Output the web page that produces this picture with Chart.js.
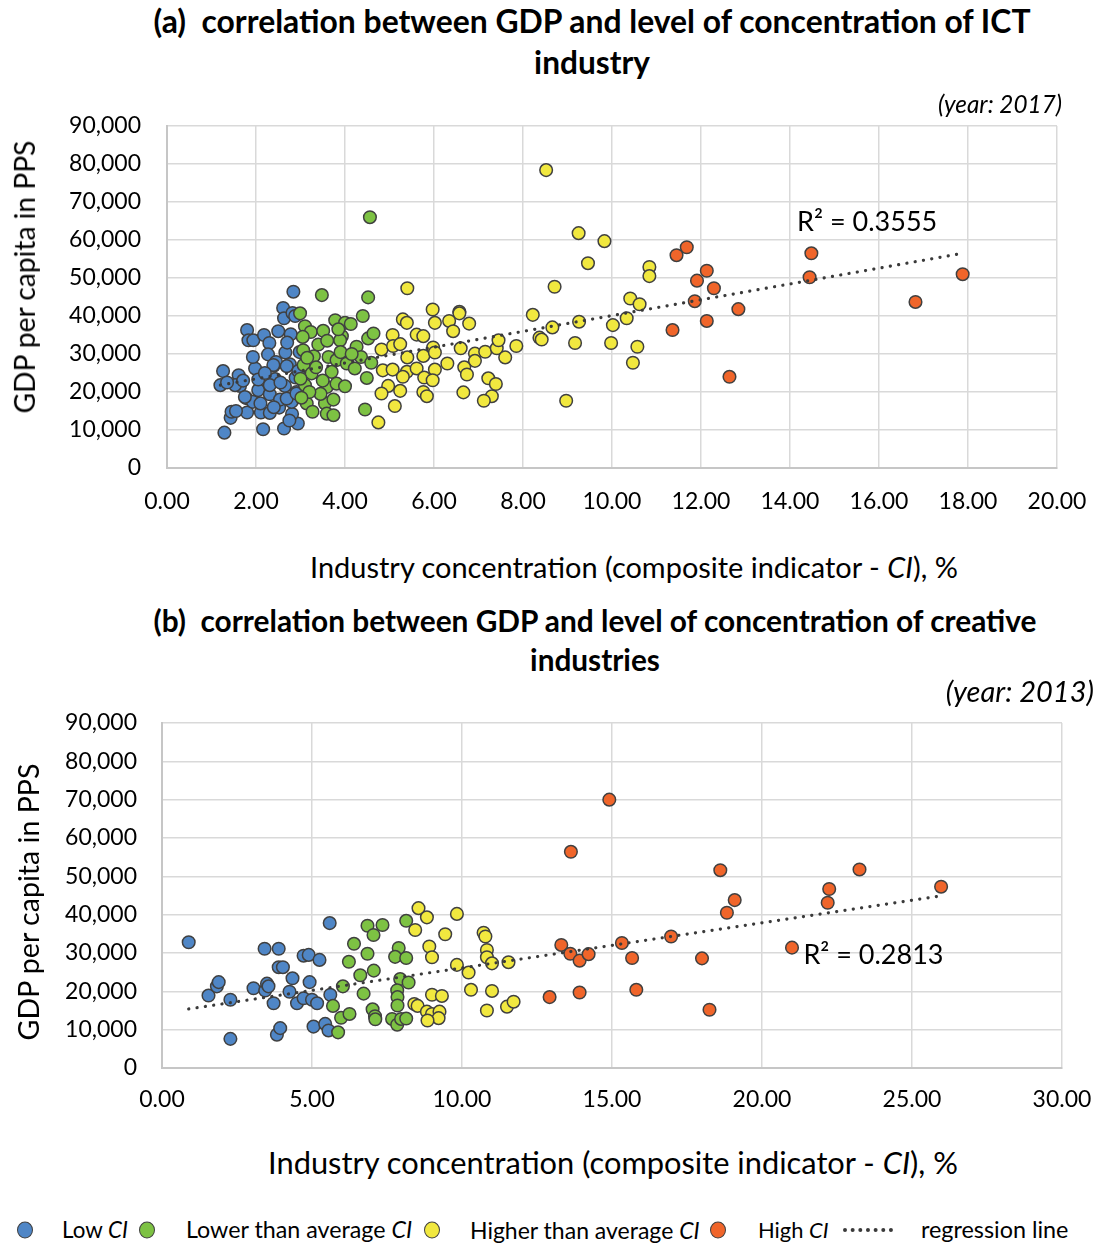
<!DOCTYPE html>
<html>
<head>
<meta charset="utf-8">
<script src="https://cdn.jsdelivr.net/npm/chart.js@4.4.0/dist/chart.umd.min.js"></script>
<style>
  body { margin: 0; background: #fff; font-family: Lato, sans-serif; color: #000; }
  #page { position: relative; width: 1096px; height: 1244px; overflow: hidden; }
  canvas { position: absolute; left: 0; }
  .t { position: absolute; white-space: nowrap; line-height: 1; }
  .c { transform: translate(-50%, -50%); }
  .r { transform: translate(-100%, -50%); }
  .l { transform: translate(0, -50%); }
  .rot { transform: translate(-50%, -50%) rotate(-90deg); }
  .title { font-weight: 700; font-size: 27px; }
  .year { font-style: italic; font-size: 20px; }
  .axis { font-size: 26px; }
  .leg { font-size: 21px; }
  .dot { position: absolute; width: 14px; height: 15px; border-radius: 50%; border: 1.5px solid #404040; transform: translate(-50%, -50%); }
  .dash { position: absolute; width: 50px; border-top: 4px dotted #3a3a3a; transform: translate(0, -50%); }
</style>
</head>
<body>
<div id="page">
  <canvas id="chartA" width="1096" height="430" style="top:100px"></canvas>
  <canvas id="chartB" width="1096" height="430" style="top:700px"></canvas>

  <div class="t c title" style="left:592px;top:22px" data-w="877">(a)&nbsp; correlation between GDP and level of concentration of ICT</div>
  <div class="t c title" style="left:592px;top:63px" data-w="116">industry</div>
  <div class="t r year" style="left:1062px;top:104px" data-w="124">(year: 2017)</div>
  <div class="t rot axis" style="left:24px;top:277px" data-w="273">GDP per capita in PPS</div>
  <div class="t c axis" style="left:634px;top:567px" data-w="648">Industry concentration (composite indicator - <i>CI</i>), %</div>

  <div class="t c title" style="left:595px;top:621px" data-w="883">(b)&nbsp; correlation between GDP and level of concentration of creative</div>
  <div class="t c title" style="left:595px;top:660px" data-w="130">industries</div>
  <div class="t r year" style="left:1094px;top:691px" data-w="148">(year: 2013)</div>
  <div class="t rot axis" style="left:28px;top:902px" data-w="277">GDP per capita in PPS</div>
  <div class="t c axis" style="left:613px;top:1163px" data-w="690">Industry concentration (composite indicator - <i>CI</i>), %</div>

  <div class="dot" style="left:25px;top:1230px;background:#4f86c6"></div>
  <div class="t l leg" style="left:62px;top:1230px" data-w="66">Low <i>CI</i></div>
  <div class="dot" style="left:147px;top:1230px;background:#7dc243"></div>
  <div class="t l leg" style="left:186px;top:1230px" data-w="226">Lower than average <i>CI</i></div>
  <div class="dot" style="left:432px;top:1230px;background:#f1e83f"></div>
  <div class="t l leg" style="left:470px;top:1230px" data-w="230">Higher than average <i>CI</i></div>
  <div class="dot" style="left:718px;top:1230px;background:#f0652a"></div>
  <div class="t l leg" style="left:758px;top:1230px" data-w="71">High <i>CI</i></div>
  <div class="dash" style="left:843px;top:1230px"></div>
  <div class="t l leg" style="left:921px;top:1230px" data-w="148">regression line</div>
</div>

<script>
// (a) ICT industry, 2017 - [CI %, GDP per capita in PPS]
const ictLow = [
  [1.29, 9300], [2.16, 10200], [2.63, 10400], [2.94, 11700], [1.43, 13200], [1.45, 14800],
  [1.80, 14600], [2.11, 14600], [2.31, 14500], [2.52, 15900], [2.81, 14200], [1.20, 21800],
  [1.26, 25500], [1.61, 24400], [1.64, 21600], [1.78, 18400], [1.93, 17400], [2.05, 20500],
  [1.98, 26200], [1.93, 29200], [1.80, 36300], [1.83, 33600], [1.94, 33600], [2.18, 35000],
  [2.30, 32900], [2.27, 29900], [2.40, 26900], [2.66, 30400], [2.78, 35200], [2.61, 42100],
  [2.63, 39400], [2.82, 40800], [2.84, 46400], [2.76, 27300], [2.65, 21600], [2.31, 19400],
  [2.91, 20000], [2.80, 17400], [2.43, 23400], [2.54, 18000], [2.45, 27900], [1.53, 21800],
  [1.71, 23000], [2.05, 23300], [2.31, 21800], [2.89, 23800], [1.75, 18700], [2.69, 18300],
  [2.91, 19600], [2.39, 27100], [2.69, 26800], [2.95, 25500], [2.55, 22500], [2.20, 25000],
  [2.10, 17000], [1.55, 15000], [2.40, 16000], [2.75, 12500], [2.98, 30500], [2.70, 33000],
  [2.50, 36000], [1.35, 22500], [2.88, 40000]
];
const ictLowerAvg = [
  [4.56, 66000], [3.48, 45500], [4.52, 44900], [2.99, 40700], [3.78, 38900], [4.00, 38200],
  [4.13, 37900], [4.40, 40000], [3.10, 37300], [3.23, 35800], [3.51, 36100], [3.93, 34700],
  [3.89, 33600], [4.52, 34100], [4.64, 35400], [4.26, 31900], [3.06, 31000], [3.30, 29400],
  [3.63, 29200], [3.81, 28400], [4.04, 27500], [4.36, 29200], [4.59, 27700], [3.07, 27100],
  [3.25, 24900], [3.70, 25300], [4.22, 26200], [4.49, 23700], [3.10, 21800], [3.59, 21300],
  [3.81, 22200], [4.00, 21500], [3.14, 17000], [3.27, 14800], [3.55, 17000], [3.59, 14300],
  [3.74, 18000], [3.74, 13900], [4.45, 15400], [3.40, 32500], [3.05, 34500], [3.35, 26500],
  [3.45, 19500], [3.20, 20000], [3.90, 30500], [4.15, 30000], [3.00, 23500], [3.60, 33500],
  [3.15, 29000], [3.50, 23000], [3.02, 18500], [3.85, 36500]
];
const ictHigherAvg = [
  [8.52, 78400], [9.25, 61800], [9.83, 59700], [9.46, 53900], [8.71, 47700], [5.40, 47300],
  [5.97, 41700], [6.57, 41100], [6.57, 40700], [5.30, 39100], [5.39, 38200], [6.02, 38200],
  [6.34, 38700], [6.79, 38000], [6.43, 36000], [8.22, 40300], [8.66, 37000], [8.37, 34300],
  [8.42, 33800], [9.26, 38500], [9.17, 32900], [9.98, 32900], [10.02, 37600], [5.07, 35000],
  [5.61, 35100], [5.76, 34700], [4.82, 31200], [5.08, 32100], [5.24, 32600], [5.40, 29100],
  [5.76, 29500], [5.98, 31700], [6.02, 30400], [6.30, 27500], [6.60, 31500], [6.92, 30100],
  [7.15, 30600], [7.41, 31500], [7.45, 33600], [7.85, 32100], [7.60, 29100], [6.92, 28200],
  [4.85, 25700], [5.07, 25900], [5.39, 25300], [5.61, 26200], [6.02, 25900], [5.30, 24000],
  [5.78, 23800], [5.97, 23100], [6.68, 26500], [6.74, 24600], [7.22, 23600], [7.39, 22100],
  [7.30, 18900], [4.97, 21600], [4.82, 19600], [5.24, 20300], [5.76, 20000], [5.84, 18900],
  [6.66, 19900], [7.12, 17700], [5.12, 16300], [4.75, 12000], [8.97, 17700], [10.84, 52900],
  [10.84, 50500], [10.41, 44600], [10.62, 43100], [10.33, 39400], [10.57, 31900], [10.47, 27700]
];
const ictHigh = [
  [14.48, 56500], [14.44, 50200], [17.88, 51000], [16.82, 43700], [11.68, 58100], [11.45, 56000],
  [12.13, 51900], [11.91, 49300], [12.29, 47300], [11.86, 43900], [12.84, 41800], [12.13, 38700],
  [11.36, 36300], [12.64, 24000]
];
const ictTrend = [[1.2, 21800], [17.88, 56500]];

// (b) creative industries, 2013
const creLow = [
  [0.89, 32800], [1.55, 18900], [1.83, 21300], [1.89, 22400], [2.28, 17800], [2.28, 7600],
  [3.42, 31100], [3.89, 31100], [3.89, 26300], [4.03, 26300], [3.05, 20800], [3.44, 20200],
  [3.50, 22000], [3.55, 21300], [3.72, 16900], [4.35, 23400], [4.25, 19900], [4.72, 29300],
  [4.89, 29500], [5.25, 28200], [4.92, 22400], [4.50, 16900], [4.72, 18200], [5.00, 17800],
  [5.17, 16900], [5.61, 19100], [5.59, 37800], [3.83, 8700], [3.94, 10400], [5.05, 10800],
  [5.44, 11500], [5.55, 9800]
];
const creLowerAvg = [
  [6.03, 21300], [5.70, 16200], [5.97, 13100], [6.25, 14100], [5.87, 9300], [6.40, 32400],
  [6.23, 27700], [6.85, 37100], [7.05, 34700], [7.35, 37300], [6.85, 29800], [7.06, 25400],
  [6.61, 24200], [6.72, 19400], [7.02, 15300], [7.10, 13500], [7.11, 12700], [8.14, 38400],
  [7.89, 31300], [7.77, 29000], [8.14, 28700], [7.94, 23200], [8.22, 22300], [7.84, 20300],
  [7.85, 18500], [7.85, 16300], [7.67, 12800], [7.84, 11300], [7.97, 12800], [8.14, 12900]
];
const creHigherAvg = [
  [8.55, 41700], [8.83, 39300], [8.44, 36000], [9.83, 40200], [9.44, 34900], [8.91, 31700],
  [9.00, 28900], [9.83, 26900], [10.22, 24900], [10.30, 20400], [9.00, 19100], [9.33, 18800],
  [8.41, 16700], [8.52, 16200], [8.83, 14700], [9.00, 14100], [9.25, 14700], [9.22, 13000],
  [8.85, 12400], [10.72, 35300], [10.78, 34300], [10.83, 30800], [10.83, 28900], [11.00, 27300],
  [11.55, 27600], [11.00, 20100], [10.83, 15000], [11.50, 16000], [11.72, 17300]
];
const creHigh = [
  [14.91, 70000], [13.63, 56400], [18.61, 51600], [23.25, 51800], [25.97, 47300], [22.24, 46700],
  [22.19, 43100], [19.09, 43800], [18.83, 40500], [21.00, 31400], [13.31, 32100], [13.61, 29800],
  [13.92, 28000], [14.22, 29700], [15.33, 32600], [16.97, 34300], [15.67, 28700], [18.00, 28600],
  [12.92, 18500], [13.92, 19700], [15.81, 20400], [18.25, 15200]
];
const creTrend = [[0.89, 15400], [25.97, 44900]];

const groupNames = ['Low CI', 'Lower than average CI', 'Higher than average CI', 'High CI'];
const groupColors = ['#4f86c6', '#7dc243', '#f1e83f', '#f0652a'];

// fit html text to the width it has in the original
document.querySelectorAll('[data-w]').forEach(function (el) {
  var size = parseFloat(getComputedStyle(el).fontSize);
  el.style.fontSize = (size * el.dataset.w / el.offsetWidth).toFixed(2) + 'px';
});

const r2Label = {
  id: 'r2Label',
  afterDatasetsDraw(chart, args, opts) {
    const { ctx, scales } = chart;
    ctx.save();
    ctx.font = '27px Lato';
    ctx.fillStyle = '#000';
    ctx.textBaseline = 'middle';
    ctx.fillText(opts.text, scales.x.getPixelForValue(opts.x), scales.y.getPixelForValue(opts.y));
    ctx.restore();
  }
};

function pts(list) {
  return list.map(function (p) { return { x: p[0], y: p[1] }; });
}

function buildChart(id, groups, trend, r2, xMax, xStep, box) {
  var datasets = [{
    label: 'regression line',
    data: pts(trend),
    showLine: true,
    borderColor: '#3a3a3a',
    borderWidth: 3.2,
    borderDash: [0.1, 8.3],
    borderCapStyle: 'round',
    pointRadius: 0,
    order: 0
  }];
  groups.forEach(function (g, i) {
    datasets.push({
      label: groupNames[i],
      data: pts(g),
      backgroundColor: groupColors[i],
      borderColor: '#404040',
      borderWidth: 1.5,
      pointRadius: 6.3,
      order: 4 - i
    });
  });
  var tickFont = { family: 'Lato', size: 23 };
  // label offsets go through (invisible) tick marks, so they do not push the plot area in
  return new Chart(document.getElementById(id).getContext('2d'), {
    type: 'scatter',
    data: { datasets: datasets },
    plugins: [r2Label],
    options: {
      responsive: false,
      animation: false,
      devicePixelRatio: 1,
      layout: { padding: box.pad },
      plugins: {
        legend: { display: false },
        tooltip: { enabled: false },
        r2Label: r2
      },
      scales: {
        x: {
          type: 'linear',
          min: 0,
          max: xMax,
          ticks: {
            stepSize: xStep,
            padding: 2,
            color: '#000',
            font: tickFont,
            maxRotation: 0,
            callback: function (v) { return v.toFixed(2); }
          },
          grid: { color: '#d9d9d9', lineWidth: 1.5, drawTicks: true, tickLength: box.xTick, tickColor: 'rgba(0,0,0,0)' },
          border: { color: '#c6c6c6', width: 2 },
          afterFit: function (s) { s.height = 50; }
        },
        y: {
          min: 0,
          max: 90000,
          ticks: {
            stepSize: 10000,
            padding: 2,
            color: '#000',
            font: tickFont,
            callback: function (v) { return v.toLocaleString('en-US'); }
          },
          grid: { color: '#d9d9d9', lineWidth: 1.5, drawTicks: true, tickLength: box.yTick, tickColor: 'rgba(0,0,0,0)' },
          border: { color: '#c6c6c6', width: 2 },
          afterFit: function (s) { s.width = box.yWidth; }
        }
      }
    }
  });
}

buildChart('chartA', [ictLow, ictLowerAvg, ictHigherAvg, ictHigh], ictTrend,
  { text: 'R² = 0.3555', x: 14.16, y: 64700 }, 20, 2,
  { pad: { top: 26, right: 39, bottom: 12, left: 0 }, yWidth: 167, xTick: 18, yTick: 24 });

buildChart('chartB', [creLow, creLowerAvg, creHigherAvg, creHigh], creTrend,
  { text: 'R² = 0.2813', x: 21.38, y: 29500 }, 30, 5,
  { pad: { top: 23, right: 34, bottom: 12, left: 0 }, yWidth: 162, xTick: 16, yTick: 23 });
</script>
</body>
</html>
